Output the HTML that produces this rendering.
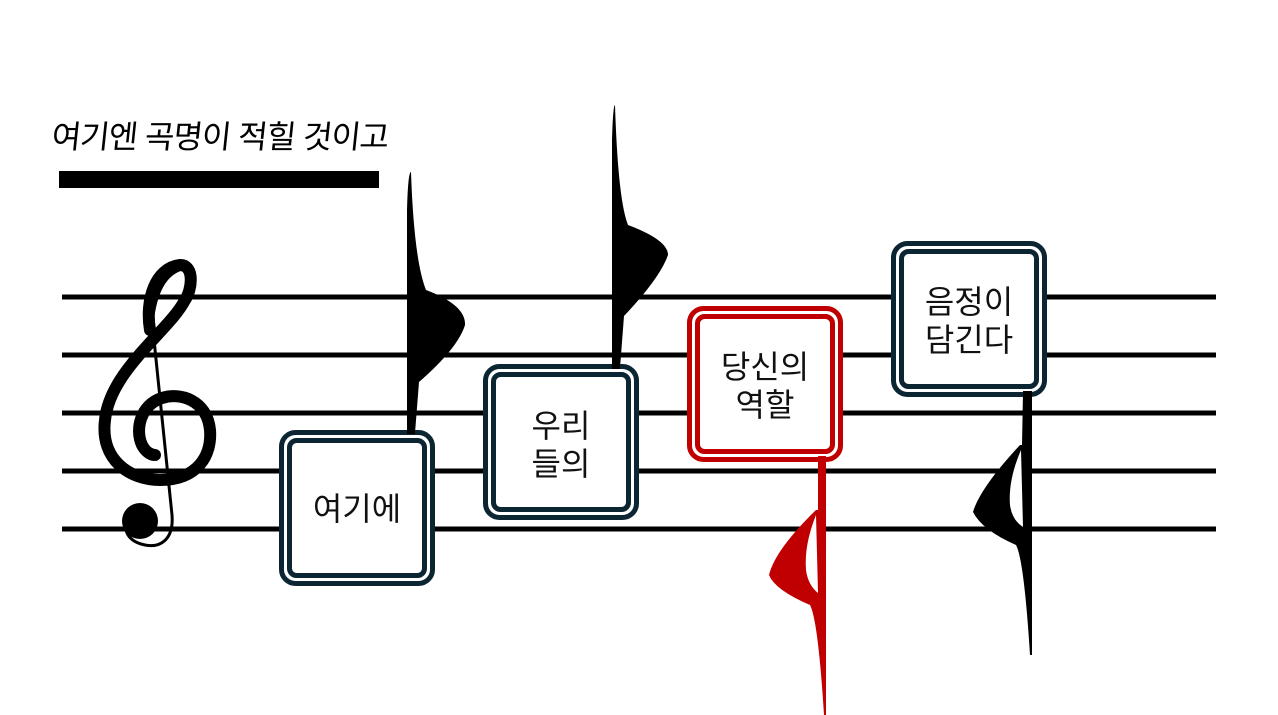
<!DOCTYPE html>
<html><head><meta charset="utf-8"><style>
html,body{margin:0;padding:0;background:#fff;}
body{width:1278px;height:715px;position:relative;overflow:hidden;}
.t{position:absolute;left:52px;top:112px;font-family:"Liberation Sans","Noto Sans CJK KR",sans-serif;font-size:32px;color:#000;letter-spacing:-1px;transform:skewX(-6deg);}
.lab{font-family:"Liberation Sans","Noto Sans CJK KR",sans-serif;font-size:32px;fill:#111;text-anchor:middle;}
</style></head><body>
<svg width="1278" height="715" style="position:absolute;left:0;top:0">
<rect x="59" y="171" width="320" height="17" fill="#000"/>
<g stroke="#000" stroke-width="5">
<line x1="62" y1="297" x2="1216" y2="297"/>
<line x1="62" y1="355" x2="1216" y2="355"/>
<line x1="62" y1="413" x2="1216" y2="413"/>
<line x1="62" y1="471" x2="1216" y2="471"/>
<line x1="62" y1="529" x2="1216" y2="529"/>
</g>
<!-- clef -->
<g fill="none" stroke="#000" stroke-linecap="round">
<path d="M150,330 C145,300 155,268 180,265 C195,265 192,290 185,300 C170,330 110,370 105,420 C100,460 130,480 160,480 C198,480 212,455 210,430 C207,400 180,392 162,398 C140,405 135,430 142,445 C146,453 152,455 155,455" stroke-width="12"/>
<path d="M150,330 C152,300 160,275 180,268" stroke-width="6"/>
<path d="M153,330 L172,515 C174,540 160,548 145,545 C135,543 128,538 126,530" stroke-width="3"/>
</g>
<circle cx="140" cy="521" r="18" fill="#000"/>
<!-- note1 -->
<path d="M407,433 L407,210 Q408,172 411,172 Q414,260 426,290 Q466,305 465,325 Q458,348 419,382 L415,433 Z" fill="#000"/>
<!-- note2 -->
<path d="M612,368 L612,140 Q613,105 615,105 Q618,200 628,225 Q668,240 668,255 Q660,278 624,316 L620,368 Z" fill="#000"/>
<!-- red note -->
<path d="M818,457 L826,457 L826,715 L824,715 Q818,620 810,605 Q775,590 769,575 Q775,550 816,510 L818,510 Z" fill="#c00000"/>
<path d="M816,515 Q804,545 806,570 Q808,585 818,593 Z" fill="#fff"/>
<!-- black note bottom -->
<path d="M1023,392 L1032,392 L1032,655 L1030,655 Q1024,560 1016,545 Q982,530 973,512 Q980,488 1020,445 L1022,445 Z" fill="#000"/>
<path d="M1021,450 Q1008,480 1010,505 Q1012,520 1023,527 Z" fill="#fff"/>
<!-- boxes -->
<g stroke-width="5" fill="#fff">
<rect x="281.5" y="432.5" width="151" height="151" rx="14" stroke="#0b2533"/>
<rect x="289.5" y="440.5" width="135" height="135" rx="7" stroke="#0b2533"/>
<rect x="485.5" y="366.5" width="151" height="151" rx="14" stroke="#0b2533"/>
<rect x="493.5" y="374.5" width="135" height="135" rx="7" stroke="#0b2533"/>
<rect x="689.5" y="308.5" width="151" height="151" rx="14" stroke="#c00000"/>
<rect x="697.5" y="316.5" width="135" height="135" rx="7" stroke="#c00000"/>
<rect x="893.5" y="243.5" width="151" height="151" rx="14" stroke="#0b2533"/>
<rect x="901.5" y="251.5" width="135" height="135" rx="7" stroke="#0b2533"/>
</g>
<rect x="407" y="427" width="8" height="7" fill="#000"/>
<rect x="612" y="362" width="8" height="7" fill="#000"/>
<rect x="818" y="456" width="8" height="6" fill="#c00000"/>
<rect x="1023" y="391" width="9" height="6" fill="#000"/>
<text class="lab" x="357" y="520">여기에</text>
<text class="lab" x="561" y="437">우리</text>
<text class="lab" x="561" y="475">들의</text>
<text class="lab" x="765" y="378">당신의</text>
<text class="lab" x="765" y="416">역할</text>
<text class="lab" x="969" y="313">음정이</text>
<text class="lab" x="969" y="351">담긴다</text>
</svg>
<div class="t">여기엔 곡명이 적힐 것이고</div>
</body></html>
